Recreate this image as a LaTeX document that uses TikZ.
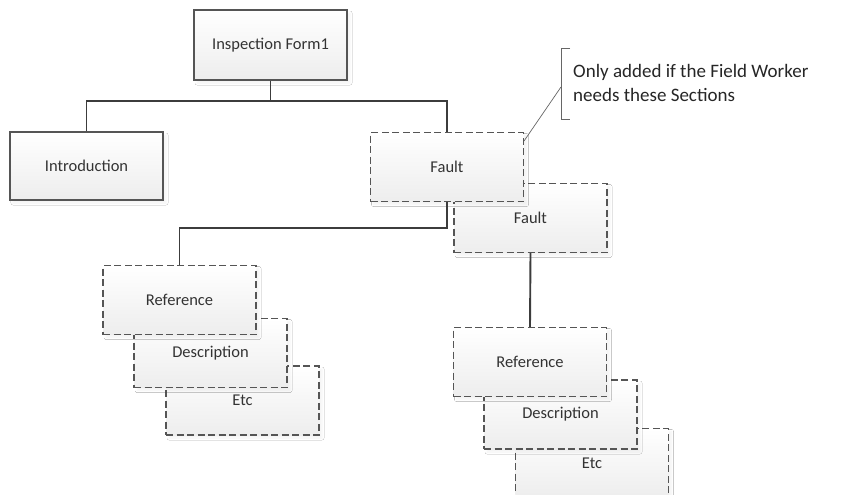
\documentclass[tikz,border=0pt]{standalone}
\usepackage{fontspec}
\setmainfont{Carlito}
\usetikzlibrary{shadows.blur,calc}
\definecolor{edge}{HTML}{555555}
\definecolor{wire}{HTML}{3C3C3C}
\definecolor{ink}{HTML}{333333}
\begin{document}
\begin{tikzpicture}[x=1pt,y=-1pt,
  box/.style={draw=edge, line width=1.1pt, top color=white, bottom color=black!7,
    minimum width=153pt, minimum height=69pt, inner sep=0pt,
    font=\fontsize{16.5}{19}\selectfont, text=ink,
    blur shadow={shadow blur steps=5, shadow xshift=3pt, shadow yshift=-3pt,
      shadow blur radius=2pt, shadow opacity=5}},
  solidbox/.style={box},
  dashbox/.style={box, dash pattern=on 7pt off 3.5pt},
  wire/.style={draw=wire, line width=1.9pt},
  callout/.style={draw=black!60, line width=0.7pt}]
\useasboundingbox (0,0) rectangle (841,495);
\fill[white] (0,0) rectangle (841,495);

% right-hand stack under the second Fault section
\node[dashbox] (etc2)  at (592,463)   {Etc};
\node[dashbox] (desc2) at (560.5,414.5) {Description};
\node[dashbox] (ref2)  at (530,362)   {Reference};

% left-hand stack under the first Fault section
\node[dashbox] (etc1)  at (242.5,400.5) {Etc};
\node[dashbox] (desc1) at (210.5,353)   {Description};
\node[dashbox] (ref1)  at (179.5,300)   {Reference};

% optional Fault sections
\node[dashbox] (fault2) at (530.5,218) {Fault};
\node[dashbox] (fault1) at (447,167)   {Fault};

% fixed sections
\node[solidbox, minimum height=70pt] (form)  at (270.5,45) {Inspection Form1};
\node[solidbox, minimum height=68pt] (intro) at (86.5,166) {Introduction};

% tree connectors
\coordinate (bus) at (270.5,101);
\coordinate (split) at (447,228);
\draw[wire] (form.south) -- (bus);
\draw[wire] (intro.north) |- (bus) -| (fault1.north);
\draw[wire] (fault1.south) -- (split) -| (ref1.north);
\draw[wire] (fault2.south) -- (ref2.north);

% note with bracket and leader line
\coordinate (brtop) at (570,48);
\coordinate (brbot) at (570,119);
\coordinate (brmid) at (561,87);
\coordinate (tip) at ($(fault1.north east)+(0,9)$);
\draw[callout] (brtop) -- ++(-9,0) -- ++(0,71) -- (brbot);
\draw[callout] (brmid) -- (tip);
\node[anchor=west, align=left, inner sep=0pt, text=black!85,
  font=\fontsize{19}{24}\selectfont] (note) at (573,83)
  {Only added if the Field Worker\\needs these Sections};
\end{tikzpicture}
\end{document}
